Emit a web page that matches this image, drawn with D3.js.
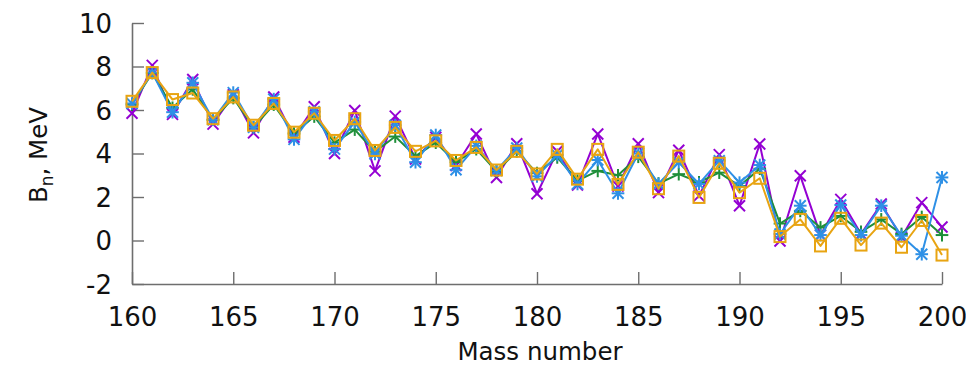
<!DOCTYPE html>
<html>
<head>
<meta charset="utf-8">
<script src="https://cdn.jsdelivr.net/npm/d3@7"></script>
<style>
  html, body { margin: 0; padding: 0; background: #fff; }
  svg { display: block; font-family: "DejaVu Sans", sans-serif; }
</style>
</head>
<body>
<svg id="chart" width="966" height="378"></svg>
<script>
// Neutron binding energies B_n (MeV) versus mass number, four calculations
const massNumbers = d3.range(160, 201);

const seriesPurple = [5.85, 8.05, 5.8, 7.4, 5.35, 6.7, 4.95, 6.6, 4.75, 6.15, 4.0, 5.98, 3.2, 5.72, 3.75,
  4.75, 3.45, 4.9, 2.9, 4.45, 2.15, 4.1, 2.55, 4.9, 2.5, 4.45, 2.2, 4.15, 2.05, 3.95, 1.6,
  4.44, -0.02, 2.98, 0.25, 1.89, 0.3, 1.68, 0.15, 1.74, 0.62];
const seriesGreen = [6.25, 7.7, 6.1, 6.95, 5.55, 6.55, 5.2, 6.25, 4.92, 5.7, 4.5, 5.1, 4.08, 4.78, 3.88,
  4.5, 3.6, 4.2, 3.18, 4.1, 3.1, 3.82, 2.75, 3.2, 3.0, 3.85, 2.62, 3.05, 2.68, 3.12, 2.5,
  3.3, 0.78, 1.36, 0.6, 1.13, 0.4, 0.97, 0.3, 1.08, 0.25];
const seriesBlue = [6.3, 7.72, 5.9, 7.25, 5.55, 6.8, 5.2, 6.5, 4.65, 5.92, 4.2, 5.45, 3.98, 5.3, 3.6,
  4.85, 3.25, 4.35, 3.22, 4.25, 2.95, 3.93, 2.6, 3.7, 2.17, 4.0, 2.6, 3.6, 2.6, 3.67, 2.66,
  3.47, 0.3, 1.6, 0.25, 1.63, 0.25, 1.6, 0.22, -0.63, 2.9];
const seriesOrange = [6.4, 7.72, 6.48, 6.78, 5.6, 6.6, 5.3, 6.3, 4.98, 5.85, 4.6, 5.6, 4.14, 5.2, 4.1,
  4.58, 3.68, 4.28, 3.24, 4.1, 3.06, 4.19, 2.82, 4.19, 2.58, 4.06, 2.38, 3.88, 1.98, 3.55, 2.2,
  2.86, 0.18, 0.97, -0.25, 1.02, -0.21, 0.8, -0.31, 0.92, -0.67];

const xTicks = [160, 165, 170, 175, 180, 185, 190, 195, 200];
const yTicks = [-2, 0, 2, 4, 6, 8, 10];

const series = [
  { values: seriesPurple, color: "#9400d3", marker: "cross" },
  { values: seriesGreen,  color: "#1f8f3a", marker: "plus" },
  { values: seriesBlue,   color: "#2e90e6", marker: "star" },
  { values: seriesOrange, color: "#e8a412", marker: "square" }
];

const svg = d3.select("#chart");
const x = d3.scaleLinear().domain([160, 200]).range([132, 942]);
const y = d3.scaleLinear().domain([-2, 10]).range([284, 23]);
const axisColor = "#6e6e6e";

// Axes: left and bottom only, ticks pointing inward
const yAxis = svg.append("g")
  .attr("transform", `translate(${x(160)},0)`)
  .call(d3.axisLeft(y).tickValues(yTicks).tickSizeInner(-12).tickSizeOuter(0).tickPadding(20)
    .tickFormat(d => d < 0 ? "-" + Math.abs(d) : String(d)));
const xAxis = svg.append("g")
  .attr("transform", `translate(0,${y(-2)})`)
  .call(d3.axisBottom(x).tickValues(xTicks).tickSizeInner(-12).tickSizeOuter(0).tickPadding(22));

[yAxis, xAxis].forEach(g => {
  g.select(".domain").attr("stroke", axisColor).attr("stroke-width", 1.6);
  g.selectAll(".tick line").attr("stroke", axisColor).attr("stroke-width", 1.4);
  g.selectAll(".tick text").attr("fill", "#111").attr("font-size", 26)
    .attr("font-family", "DejaVu Sans, sans-serif");
});
yAxis.selectAll(".tick text").attr("dy", "0.36em");
xAxis.selectAll(".tick text").attr("dy", "0.75em");

// Axis titles
svg.append("text")
  .attr("x", 540).attr("y", 360)
  .attr("text-anchor", "middle").attr("font-size", 24.5).attr("fill", "#111")
  .text("Mass number");

const yTitle = svg.append("text")
  .attr("transform", `translate(47,155) rotate(-90)`)
  .attr("text-anchor", "middle").attr("font-size", 24.5).attr("fill", "#111");
yTitle.append("tspan").text("B");
yTitle.append("tspan").attr("font-size", 17).attr("dy", 6).text("n");
yTitle.append("tspan").attr("dy", -6).text(", MeV");

// Marker shapes
const ms = 5.5;
function drawMarker(g, kind, cx, cy, color) {
  const s = ms;
  const seg = (x1, y1, x2, y2) => g.append("line")
    .attr("x1", cx + x1).attr("y1", cy + y1).attr("x2", cx + x2).attr("y2", cy + y2)
    .attr("stroke", color).attr("stroke-width", 2);
  if (kind === "cross" || kind === "star") { seg(-s, -s, s, s); seg(-s, s, s, -s); }
  if (kind === "plus" || kind === "star") { seg(-s * 1.15, 0, s * 1.15, 0); seg(0, -s * 1.15, 0, s * 1.15); }
  if (kind === "square") {
    g.append("rect").attr("x", cx - s).attr("y", cy - s).attr("width", 2 * s).attr("height", 2 * s)
      .attr("fill", "none").attr("stroke", color).attr("stroke-width", 2);
  }
}

const line = d3.line().x((d, i) => x(massNumbers[i])).y(d => y(d));

series.forEach(s => {
  const g = svg.append("g");
  g.append("path").datum(s.values)
    .attr("d", line).attr("fill", "none")
    .attr("stroke", s.color).attr("stroke-width", 2).attr("stroke-linejoin", "round");
  s.values.forEach((v, i) => drawMarker(g, s.marker, x(massNumbers[i]), y(v), s.color));
});
</script>
</body>
</html>
